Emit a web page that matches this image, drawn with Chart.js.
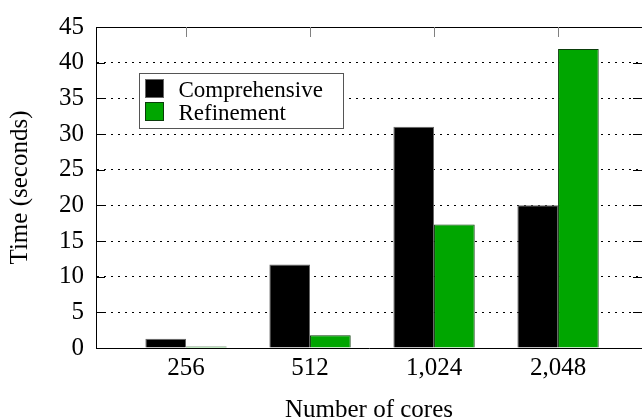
<!DOCTYPE html>
<html>
<head>
<meta charset="utf-8">
<script src="https://cdn.jsdelivr.net/npm/chart.js@4"></script>
<style>
  html, body { margin: 0; padding: 0; background: #fff; }
  #wrap { width: 642px; height: 420px; }
</style>
</head>
<body>
<div id="wrap"><canvas id="timeChart" width="642" height="420"></canvas></div>
<script>
// data
const cores = ["256", "512", "1,024", "2,048"];
const comprehensive = [1.3, 11.7, 31.0, 20.0];
const refinement = [0.2, 1.8, 17.3, 41.9];
const yTicks = [0, 5, 10, 15, 20, 25, 30, 35, 40, 45];

const serif = "'Liberation Serif', 'Times New Roman', serif";

// frame on top + inward tick marks, like the gnuplot original
const framePlugin = {
  id: 'frame',
  afterDatasetsDraw(chart) {
    const ctx = chart.ctx;
    const area = chart.chartArea;
    const xs = chart.scales.x;
    const ys = chart.scales.y;
    ctx.save();
    ctx.lineWidth = 1;
    ctx.strokeStyle = '#000';
    ctx.beginPath();
    ctx.moveTo(area.left, Math.round(area.top) + 0.5);
    ctx.lineTo(area.right, Math.round(area.top) + 0.5);
    yTicks.forEach(v => {
      const py = Math.round(ys.getPixelForValue(v)) + 0.5;
      ctx.moveTo(area.left, py);
      ctx.lineTo(area.left + 9, py);
      ctx.moveTo(area.right - 9, py);
      ctx.lineTo(area.right, py);
    });
    ctx.stroke();

    ctx.strokeStyle = '#808080';
    ctx.beginPath();
    cores.forEach((c, i) => {
      const px = Math.round(xs.getPixelForValue(i)) + 0.5;
      ctx.moveTo(px, area.top);
      ctx.lineTo(px, area.top + 10);
    });
    ctx.stroke();
    ctx.restore();
  }
};

// boxed legend inside the plot
const boxLegend = {
  id: 'boxLegend',
  afterDraw(chart) {
    const ctx = chart.ctx;
    const area = chart.chartArea;
    const x0 = area.left + 43.5;
    const y0 = area.top + 46.5;
    ctx.save();
    ctx.fillStyle = '#fff';
    ctx.fillRect(x0, y0, 204, 55);
    ctx.strokeStyle = '#555';
    ctx.lineWidth = 1;
    ctx.strokeRect(x0, y0, 204, 55);
    ctx.font = '23px ' + serif;
    ctx.textBaseline = 'alphabetic';
    chart.data.datasets.forEach((ds, i) => {
      const sy = y0 + 6 + i * 23;
      ctx.fillStyle = ds.backgroundColor;
      ctx.fillRect(x0 + 6, sy, 18, 18);
      ctx.strokeStyle = ds.borderColor;
      ctx.strokeRect(x0 + 6, sy, 18, 18);
      ctx.fillStyle = '#000';
      ctx.fillText(ds.label, x0 + 39, sy + 17);
    });
    ctx.restore();
  }
};

const ctx = document.getElementById('timeChart').getContext('2d');
new Chart(ctx, {
  type: 'bar',
  data: {
    datasets: [
      {
        label: 'Comprehensive',
        data: cores.map((c, i) => ({ x: i, y: comprehensive[i] })),
        backgroundColor: '#000000',
        borderColor: '#666666',
        borderWidth: 1
      },
      {
        label: 'Refinement',
        data: cores.map((c, i) => ({ x: i, y: refinement[i] })),
        backgroundColor: '#00a600',
        borderColor: '#0a3d0a',
        borderWidth: 1
      }
    ]
  },
  options: {
    responsive: false,
    animation: false,
    devicePixelRatio: 1,
    categoryPercentage: 0.656,
    barPercentage: 1.0,
    layout: { padding: { top: 16, left: 0, right: 0, bottom: 0 } },
    plugins: {
      legend: { display: false },
      tooltip: { enabled: false }
    },
    scales: {
      x: {
        type: 'linear',
        offset: false,
        min: -0.726,
        max: 3.677,
        afterBuildTicks: axis => { axis.ticks = cores.map((c, i) => ({ value: i })); },
        afterFit: axis => { axis.height = 72; },
        ticks: {
          includeBounds: false,
          color: '#000',
          padding: 5,
          font: { family: serif, size: 25 },
          callback: v => cores[v]
        },
        grid: { display: false, drawTicks: false },
        border: { display: true, color: '#000', width: 1 },
        title: {
          display: true,
          text: 'Number of cores',
          color: '#000',
          padding: { top: 0, bottom: 0 },
          font: { family: serif, size: 25, lineHeight: 0.8 }
        }
      },
      y: {
        min: 0,
        max: 45,
        afterBuildTicks: axis => { axis.ticks = yTicks.map(v => ({ value: v })); },
        afterFit: axis => { axis.width = 96; },
        ticks: {
          color: '#000',
          padding: 12,
          font: { family: serif, size: 25 }
        },
        grid: { color: '#000', lineWidth: 1, drawTicks: false },
        border: { display: true, color: '#000', width: 1, dash: [2, 5] },
        title: {
          display: true,
          text: 'Time (seconds)',
          color: '#000',
          padding: { top: 8, bottom: 0 },
          font: { family: serif, size: 25, lineHeight: 1 }
        }
      }
    }
  },
  plugins: [framePlugin, boxLegend]
});
</script>
</body>
</html>
